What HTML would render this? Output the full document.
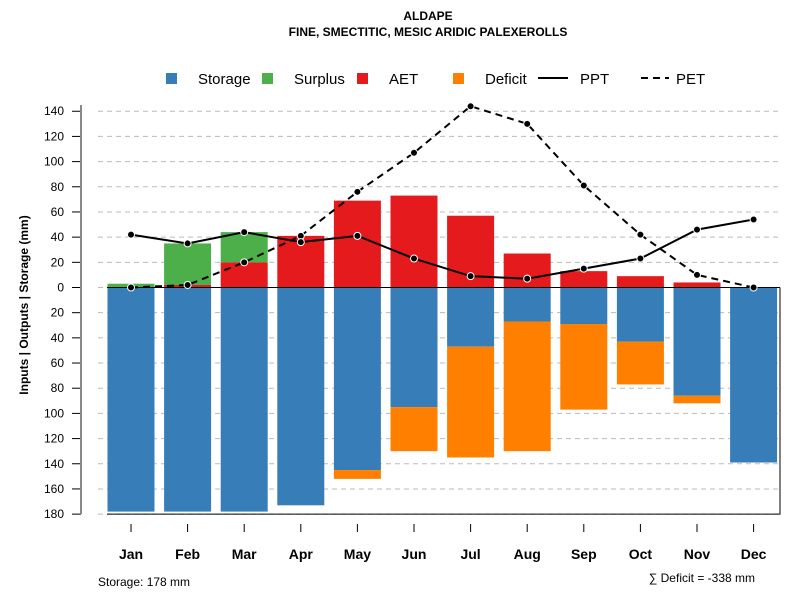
<!DOCTYPE html>
<html><head><meta charset="utf-8"><style>
body{margin:0;background:#fff;font-family:"Liberation Sans",sans-serif;}
svg text{font-family:"Liberation Sans",sans-serif;}
</style></head><body>
<svg id="c" width="800" height="600" xmlns="http://www.w3.org/2000/svg">
<text x="428" y="20" text-anchor="middle" font-size="12" font-weight="bold">ALDAPE</text>
<text x="428" y="36" text-anchor="middle" font-size="12" font-weight="bold">FINE, SMECTITIC, MESIC ARIDIC PALEXEROLLS</text>
<g>
<rect x="166" y="73" width="11" height="11" fill="#377eb8"/>
<text x="198" y="84" font-size="15">Storage</text>
<rect x="262" y="73" width="11" height="11" fill="#4daf4a"/>
<text x="294" y="84" font-size="15">Surplus</text>
<rect x="357" y="73" width="11" height="11" fill="#e41a1c"/>
<text x="389" y="84" font-size="15">AET</text>
<rect x="453" y="73" width="11" height="11" fill="#ff7f00"/>
<text x="485" y="84" font-size="15">Deficit</text>
<line x1="538" y1="78" x2="568" y2="78" stroke="#000" stroke-width="2"/>
<text x="580" y="84" font-size="15">PPT</text>
<line x1="641" y1="78" x2="669" y2="78" stroke="#000" stroke-width="2" stroke-dasharray="7,5"/>
<text x="676" y="84" font-size="15">PET</text>
</g>
<text transform="translate(28,305) rotate(-90)" text-anchor="middle" font-size="12" font-weight="bold">Inputs | Outputs | Storage    (mm)</text>
<g id="grid"></g><g id="bars"></g><g id="axes"></g><g id="lines"></g>
<text x="98" y="586" font-size="12">Storage: 178 mm</text>
<text x="755" y="582" text-anchor="end" font-size="12">∑ Deficit = -338 mm</text>
</svg>
<script>
const months=["Jan","Feb","Mar","Apr","May","Jun","Jul","Aug","Sep","Oct","Nov","Dec"];
const storage=[178,178,178,173,145,95,47,27,29,43,86,139];
const deficit=[0,0,0,0,7,35,88,103,68,34,6,0];
const aet=[0,2,20,41,69,73,57,27,13,9,4,0];
const surplus=[3,33,24,0,0,0,0,0,0,0,0,0];
const ppt=[42,35,44,36,41,23,9,7,15,23,46,54];
const pet=[0,2,20,41,76,107,144,130,81,42,10,0];
const ticks=[140,120,100,80,60,40,20,0,-20,-40,-60,-80,-100,-120,-140,-160,-180];
const NS="http://www.w3.org/2000/svg";
const y0=287.5,k=1.259;
function y(v){return y0-v*k;}
function x(i){return 131+i*56.6;}
const bw=47;
function mk(tag,attrs,parent){const e=document.createElementNS(NS,tag);for(const a in attrs)e.setAttribute(a,attrs[a]);document.getElementById(parent).appendChild(e);return e;}
ticks.forEach(t=>{
 let g=mk("line",{x1:98,x2:780,y1:y(t),y2:y(t),stroke:"#bbb","stroke-dasharray":"5,4"},"grid");
 
 
 let tk=mk("line",{x1:72,x2:81,y1:y(t),y2:y(t),stroke:"#000"},"axes");
 
 
 let tx=mk("text",{x:64,y:y(t)+4,"text-anchor":"end","font-size":"12"},"axes");
 tx.textContent=Math.abs(t);
 
 
});
let ax=mk("line",{x1:81,x2:81,y1:y(145),y2:y(-180),stroke:"#888","stroke-width":2},"axes");


months.forEach((m,i)=>{
 const l=x(i)-bw/2;
 let b=mk("rect",{x:l,y:y(0),width:bw,height:storage[i]*k,fill:"#377eb8"},"bars");
 
 
 if(deficit[i]>0){let d=mk("rect",{x:l,y:y(-storage[i]),width:bw,height:deficit[i]*k,fill:"#ff7f00"},"bars");
 
 }
 if(aet[i]>0){let a=mk("rect",{x:l,y:y(aet[i]),width:bw,height:aet[i]*k,fill:"#e41a1c"},"bars");
 
 }
 if(surplus[i]>0){let s=mk("rect",{x:l,y:y(aet[i]+surplus[i]),width:bw,height:surplus[i]*k,fill:"#4daf4a"},"bars");
 
 }
 let tk=mk("line",{x1:x(i),x2:x(i),y1:524,y2:532,stroke:"#000"},"axes");
 
 
 let tx=mk("text",{x:x(i),y:559,"text-anchor":"middle","font-size":"14","font-weight":"bold"},"axes");
 tx.textContent=m;
 
 
});
let zl=mk("line",{x1:107,x2:780,y1:y0,y2:y0,stroke:"#000"},"bars");


let bx=mk("path",{d:`M107,${y(-180)} H780 V${y0}`,fill:"none",stroke:"#000"},"bars");


function series(vals,dash,name){
 let p=mk("polyline",{points:vals.map((v,i)=>x(i)+","+y(v)).join(" "),fill:"none",stroke:"#000","stroke-width":2,"stroke-dasharray":dash},"lines");
 
 
 vals.forEach((v,i)=>{let c=mk("circle",{cx:x(i),cy:y(v),r:3.5,fill:"#000",stroke:"#fff","stroke-width":1},"lines");
 
 });
}
series(pet,"7,5","pet");
series(ppt,"none","ppt");
</script>
</body></html>
